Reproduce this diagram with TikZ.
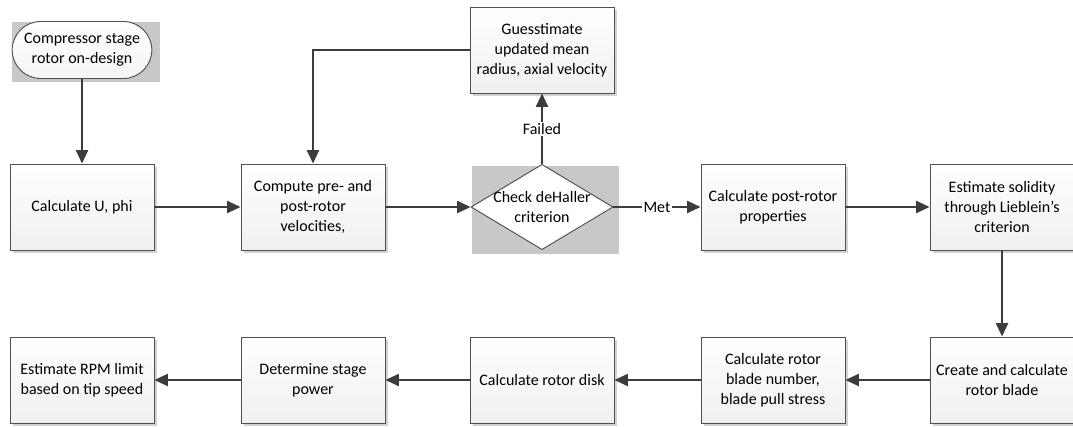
\documentclass[tikz,border=0pt]{standalone}
\usepackage{fontspec}
\setmainfont{Carlito}
\usetikzlibrary{shapes.geometric,shapes.misc,arrows.meta,shadows}
\definecolor{linegray}{HTML}{3C3C3C}
\definecolor{boxgray}{HTML}{505050}
\definecolor{bggray}{HTML}{C8C8C8}
\tikzset{
  procbox/.style={rectangle,draw=boxgray,line width=0.7pt,top color=white,bottom color=gray!12,
    minimum width=108pt,minimum height=64.5pt,align=center,inner sep=2pt,
    drop shadow={shadow xshift=2.2pt,shadow yshift=-2.2pt,fill=gray!35,opacity=1}},
  termbox/.style={rounded rectangle,draw=boxgray,line width=0.7pt,top color=white,bottom color=gray!8,
    minimum width=108.75pt,minimum height=42.75pt,align=center,inner sep=2pt},
  flow/.style={draw=linegray,line width=1.4pt,-{Triangle[length=10pt,width=9pt]}},
  edgelabel/.style={fill=white,inner sep=1pt}
}
\begin{document}
\begin{tikzpicture}[x=0.75pt,y=-0.75pt,font=\fontsize{12}{15}\selectfont]
\useasboundingbox (0,0) rectangle (1073,426);
% grey backgrounds
\fill[bggray] (12,22) rectangle (160,82);
\fill[bggray] (472,166) rectangle (619,254);
% top row
\node[termbox] (start) at (82,50) {Compressor stage\\rotor on-design};
\node[procbox] (calc) at (82,207) {Calculate U, phi};
\node[procbox] (comp) at (313,207) {Compute pre- and\\post-rotor\\velocities,};
\node[diamond,draw=boxgray,line width=0.7pt,fill=white,inner sep=0pt,minimum width=106.5pt,minimum height=64pt] (chk) at (542,207) {};
\node[align=center,inner sep=0pt] (chktxt) at (chk.center) {Check deHaller\\criterion};
\node[procbox] (guess) at (542,50) {Guesstimate\\updated mean\\radius, axial velocity};
\node[procbox] (post) at (773,207) {Calculate post-rotor\\properties};
\node[procbox] (solid) at (1002,207) {Estimate solidity\\through Lieblein’s\\criterion};
% bottom row
\node[procbox] (create) at (1002,380) {Create and calculate\\rotor blade};
\node[procbox] (blade) at (773,380) {Calculate rotor\\blade number,\\blade pull stress};
\node[procbox] (disk) at (542,380) {Calculate rotor disk};
\node[procbox] (power) at (313,380) {Determine stage\\power};
\node[procbox] (rpm) at (82,380) {Estimate RPM limit\\based on tip speed};
% connectors
\draw[flow] (start) -- (calc);
\draw[flow] (calc) -- (comp);
\draw[flow] (comp) -- (chk.west);
\draw[flow] (chk.north) -- (guess) node[midway,edgelabel] {Failed};
\draw[flow] (guess.west) -| (comp.north);
\draw[flow] (chk.east) -- (post) node[midway,edgelabel] {Met};
\draw[flow] (post) -- (solid);
\draw[flow] (solid) -- (create);
\draw[flow] (create) -- (blade);
\draw[flow] (blade) -- (disk);
\draw[flow] (disk) -- (power);
\draw[flow] (power) -- (rpm);
\end{tikzpicture}
\end{document}
